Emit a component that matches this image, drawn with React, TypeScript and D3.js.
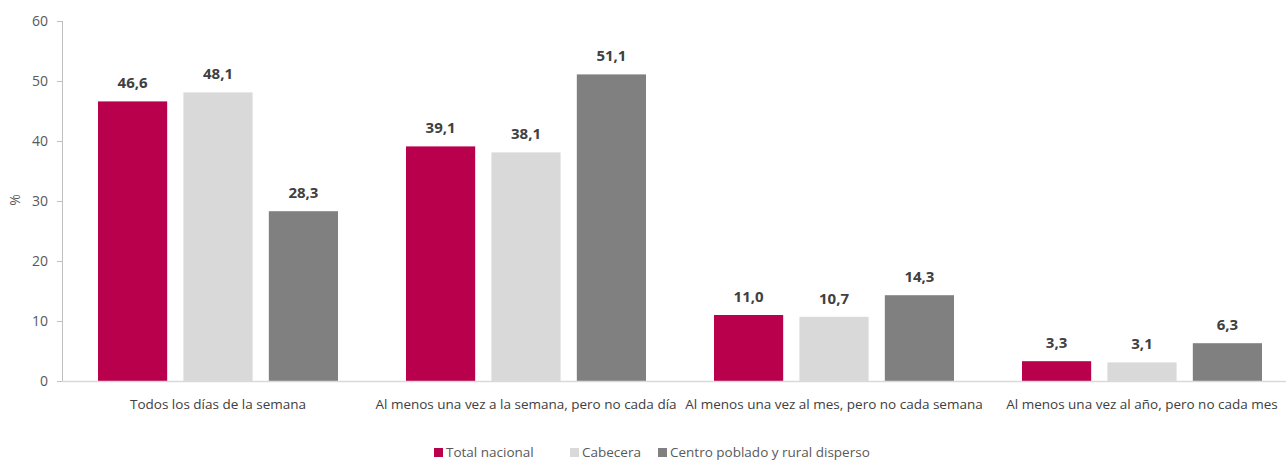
import React from "react";
import * as d3 from "d3";

const categories = [
  "Todos los días de la semana",
  "Al menos una vez a la semana, pero no cada día",
  "Al menos una vez al mes, pero no cada semana",
  "Al menos una vez al año, pero no cada mes",
];
const seriesNames = ["Total nacional", "Cabecera", "Centro poblado y rural disperso"];
const totalNacional = [46.6, 39.1, 11.0, 3.3];
const cabecera = [48.1, 38.1, 10.7, 3.1];
const centroPoblado = [28.3, 51.1, 14.3, 6.3];
const yTicks = [0, 10, 20, 30, 40, 50, 60];
const colors = ["#B9004C", "#D9D9D9", "#808080"];

const W = 1286;
const H = 460;
const FONT = "'Open Sans', 'Liberation Sans', sans-serif";

export default function App() {
  const seriesValues = [totalNacional, cabecera, centroPoblado];
  const y = d3.scaleLinear().domain([0, 60]).range([381, 21]);
  const x0 = d3.scaleBand<string>().domain(categories).range([64, 1296]).padding(0);
  const x1 = d3
    .scaleBand<string>()
    .domain(seriesNames)
    .range([34, 274])
    .paddingInner(0.19)
    .paddingOuter(0);
  const fmt = (v: number) => v.toFixed(1).replace(".", ",");
  const legendX = [434, 570, 658];

  return (
    <svg width={W} height={H} style={{ position: "absolute", left: 0, top: 0, background: "#fff" }}>
      {/* y axis */}
      <line x1={62.5} x2={62.5} y1={21} y2={381} stroke="#BFBFBF" />
      {yTicks.map((t) => (
        <g key={t}>
          <line x1={57} x2={62.5} y1={Math.round(y(t)) + 0.5} y2={Math.round(y(t)) + 0.5} stroke="#BFBFBF" />
          <text
            x={48}
            y={y(t)}
            dy="0.35em"
            textAnchor="end"
            fontFamily={FONT}
            fontSize={14}
            fill="#595959"
          >
            {t}
          </text>
        </g>
      ))}
      <text
        transform={`translate(20,200) rotate(-90)`}
        textAnchor="middle"
        fontFamily={FONT}
        fontSize={14}
        fill="#595959"
      >
        %
      </text>
      {/* bars */}
      {categories.map((c, ci) => (
        <g key={c} transform={`translate(${x0(c)},0)`}>
          {seriesNames.map((s, si) => {
            const v = seriesValues[si][ci];
            const bx = x1(s)!;
            return (
              <g key={s}>
                <rect x={bx} y={y(v)} width={x1.bandwidth()} height={y(0) - y(v)} fill={colors[si]} />
                <text
                  x={bx + x1.bandwidth() / 2}
                  y={y(v) - 13}
                  textAnchor="middle"
                  fontFamily={FONT}
                  fontSize={15}
                  fontWeight="bold"
                  fill="#404040"
                >
                  {fmt(v)}
                </text>
              </g>
            );
          })}
          <text
            x={x0.bandwidth() / 2}
            y={409}
            textAnchor="middle"
            fontFamily={FONT}
            fontSize={13.5}
            fill="#404040"
          >
            {c}
          </text>
        </g>
      ))}
      {/* x axis */}
      <line x1={62} x2={1286} y1={381.5} y2={381.5} stroke="#D9D9D9" strokeWidth={1.5} />
      {/* legend */}
      {seriesNames.map((s, si) => (
        <g key={s} transform={`translate(${legendX[si]},0)`}>
          <rect x={0} y={448} width={9} height={9} fill={colors[si]} />
          <text x={12} y={457} fontFamily={FONT} fontSize={13.5} fill="#595959">
            {s}
          </text>
        </g>
      ))}
    </svg>
  );
}
